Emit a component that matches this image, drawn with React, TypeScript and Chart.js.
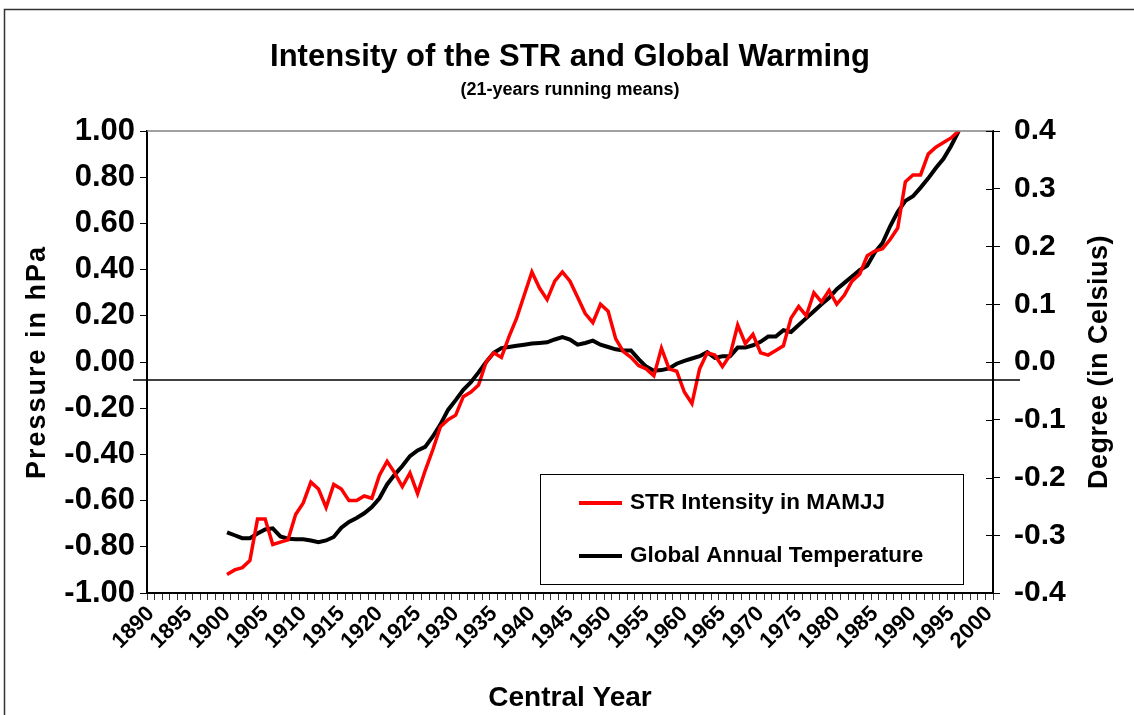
import React, { useEffect, useRef } from 'react';
import { Chart, registerables } from 'chart.js';

Chart.register(...registerables);

// ---------- DATA ----------
const FIRST_YEAR = 1890;
const LAST_YEAR = 2000;
const SERIES_START_YEAR = 1900;

const tickLabels = ['1890', '1895', '1900', '1905', '1910', '1915', '1920', '1925', '1930', '1935', '1940', '1945', '1950', '1955', '1960', '1965', '1970', '1975', '1980', '1985', '1990', '1995', '2000'];

// STR intensity (hPa), 21-year running means, central years 1900..1996
const strValues = [
  -0.92, -0.90, -0.89, -0.86, -0.68, -0.68, -0.79, -0.78, -0.77, -0.66,
  -0.61, -0.52, -0.55, -0.63, -0.53, -0.55, -0.60, -0.60, -0.58, -0.59,
  -0.49, -0.43, -0.48, -0.54, -0.48, -0.57, -0.47, -0.38, -0.28, -0.25,
  -0.23, -0.15, -0.13, -0.10, 0.00, 0.04, 0.02, 0.11, 0.19, 0.29,
  0.39, 0.32, 0.27, 0.35, 0.39, 0.35, 0.28, 0.21, 0.17, 0.25,
  0.22, 0.10, 0.045, 0.02, -0.015, -0.03, -0.06, 0.06, -0.03, -0.04,
  -0.13, -0.18, -0.03, 0.04, 0.03, -0.02, 0.03, 0.16, 0.08, 0.12,
  0.04, 0.03, 0.05, 0.07, 0.19, 0.24, 0.20, 0.30, 0.26, 0.31,
  0.25, 0.29, 0.35, 0.38, 0.46, 0.48, 0.49, 0.53, 0.58, 0.78,
  0.81, 0.81, 0.90, 0.93, 0.95, 0.97, 1.00,
];

// Global annual temperature anomaly (deg C), central years 1900..1996
const tempValues = [
  -0.295, -0.300, -0.305, -0.305, -0.297, -0.290, -0.288, -0.302, -0.306, -0.307,
  -0.307, -0.309, -0.312, -0.309, -0.303, -0.287, -0.277, -0.270, -0.262, -0.251,
  -0.236, -0.212, -0.195, -0.180, -0.163, -0.153, -0.147, -0.129, -0.108, -0.083,
  -0.066, -0.048, -0.035, -0.018, 0.000, 0.016, 0.024, 0.026, 0.028, 0.030,
  0.032, 0.033, 0.034, 0.039, 0.043, 0.039, 0.030, 0.033, 0.037, 0.030,
  0.026, 0.022, 0.020, 0.020, 0.005, -0.008, -0.015, -0.014, -0.011, -0.003,
  0.002, 0.006, 0.010, 0.017, 0.007, 0.010, 0.010, 0.025, 0.025, 0.029,
  0.035, 0.044, 0.044, 0.055, 0.052, 0.064, 0.076, 0.088, 0.100, 0.111,
  0.126, 0.137, 0.148, 0.159, 0.167, 0.190, 0.206, 0.235, 0.260, 0.279,
  0.287, 0.302, 0.318, 0.336, 0.352, 0.374, 0.400,
];

const REF_LINE_VALUE = -0.078; // horizontal reference line, left-axis units

const TITLE = 'Intensity of the STR and Global Warming';
const SUBTITLE = '(21-years running means)';
const X_TITLE = 'Central Year';
const Y_TITLE = 'Pressure in hPa';
const Y1_TITLE = 'Degree (in Celsius)';
const STR_LABEL = 'STR Intensity in MAMJJ';
const TEMP_LABEL = 'Global Annual Temperature';

// ---------- BUILD ----------
const categories: string[] = [];
for (let y = FIRST_YEAR; y <= LAST_YEAR; y++) categories.push(String(y));

function align(values: number[]): (number | null)[] {
  return categories.map((c) => {
    const i = Number(c) - SERIES_START_YEAR;
    return i >= 0 && i < values.length ? values[i] : null;
  });
}

const FONT = '"Liberation Sans", Arial, Helvetica, sans-serif';
const W = 1134;
const H = 715;

const decorPlugin = {
  id: 'decor',
  afterDraw(chart: any) {
    const { ctx, chartArea: a, scales } = chart;
    ctx.save();

    // outer frame
    ctx.strokeStyle = '#333';
    ctx.lineWidth = 1.5;
    ctx.beginPath();
    ctx.moveTo(4.5, H + 5);
    ctx.lineTo(4.5, 9.5);
    ctx.lineTo(W + 5, 9.5);
    ctx.stroke();

    // plot area top border
    ctx.strokeStyle = '#808080';
    ctx.lineWidth = 1.5;
    ctx.beginPath();
    ctx.moveTo(a.left, a.top);
    ctx.lineTo(a.right, a.top);
    ctx.stroke();

    // inner half of right-axis ticks
    ctx.strokeStyle = '#000';
    ctx.lineWidth = 1;
    scales.y1.ticks.forEach((t: any) => {
      const py = Math.round(scales.y1.getPixelForValue(t.value)) + 0.5;
      ctx.beginPath();
      ctx.moveTo(a.right - 7, py);
      ctx.lineTo(a.right, py);
      ctx.stroke();
    });

    // horizontal reference line
    const ry = scales.y.getPixelForValue(REF_LINE_VALUE);
    ctx.strokeStyle = '#000';
    ctx.lineWidth = 1.5;
    ctx.beginPath();
    ctx.moveTo(a.left - 14, ry);
    ctx.lineTo(a.right + 27, ry);
    ctx.stroke();

    // titles
    ctx.fillStyle = '#000';
    ctx.textAlign = 'center';
    ctx.textBaseline = 'middle';
    const cx = (a.left + a.right) / 2;
    ctx.font = `bold 31px ${FONT}`;
    ctx.fillText(TITLE, cx, 57);
    ctx.font = `bold 18px ${FONT}`;
    ctx.fillText(SUBTITLE, cx, 90);
    ctx.font = `bold 28px ${FONT}`;
    ctx.fillText(X_TITLE, cx, 698);

    const midY = (a.top + a.bottom) / 2;
    ctx.save();
    ctx.translate(38, midY);
    ctx.rotate(-Math.PI / 2);
    ctx.font = `bold 27px ${FONT}`;
    (ctx as any).letterSpacing = '2px';
    ctx.fillText(Y_TITLE, 0, 0);
    ctx.restore();

    ctx.save();
    ctx.translate(1100, midY);
    ctx.rotate(-Math.PI / 2);
    ctx.font = `bold 27px ${FONT}`;
    (ctx as any).letterSpacing = '0.5px';
    ctx.fillText(Y1_TITLE, 0, 0);
    ctx.restore();

    // legend
    const lx = 540.5, ly = 474.5, lw = 423, lh = 110;
    ctx.fillStyle = '#fff';
    ctx.fillRect(lx, ly, lw, lh);
    ctx.strokeStyle = '#000';
    ctx.lineWidth = 1;
    ctx.strokeRect(lx, ly, lw, lh);
    const items = [
      { label: STR_LABEL, color: chart.data.datasets[0].borderColor, y: 503 },
      { label: TEMP_LABEL, color: chart.data.datasets[1].borderColor, y: 556 },
    ];
    items.forEach((it) => {
      ctx.strokeStyle = it.color;
      ctx.lineWidth = 4;
      ctx.beginPath();
      ctx.moveTo(579, it.y);
      ctx.lineTo(622, it.y);
      ctx.stroke();
      ctx.fillStyle = '#000';
      ctx.textAlign = 'left';
      ctx.font = `bold 22.5px ${FONT}`;
      ctx.fillText(it.label, 630, it.y);
    });

    ctx.restore();
  },
};

export default function App() {
  const ref = useRef<HTMLCanvasElement | null>(null);

  useEffect(() => {
    if (!ref.current) return;
    const chart = new Chart(ref.current, {
      type: 'line',
      data: {
        labels: categories,
        datasets: [
          {
            label: STR_LABEL,
            data: align(strValues),
            borderColor: '#ff0000',
            borderWidth: 3.5,
            pointRadius: 0,
            tension: 0,
            yAxisID: 'y',
            spanGaps: false,
          },
          {
            label: TEMP_LABEL,
            data: align(tempValues),
            borderColor: '#000000',
            borderWidth: 4,
            pointRadius: 0,
            tension: 0,
            yAxisID: 'y1',
            spanGaps: false,
          },
        ],
      },
      options: {
        responsive: false,
        animation: false,
        devicePixelRatio: 1,
        layout: { padding: { top: 131, left: 0, right: 0, bottom: 0 } },
        plugins: {
          legend: { display: false },
          title: { display: false },
          tooltip: { enabled: false },
        },
        scales: {
          x: {
            type: 'category',
            offset: true,
            grid: { offset: true, drawOnChartArea: false, drawTicks: true, tickLength: 7, color: '#333', lineWidth: 1 },
            border: { color: '#000', width: 2 },
            ticks: {
              autoSkip: false,
              maxRotation: 45,
              minRotation: 45,
              padding: 1,
              color: '#000',
              font: { family: FONT, size: 22, weight: 'bold' },
              callback: (_v: any, i: number) => (tickLabels.includes(categories[i]) ? categories[i] : ''),
            },
            afterFit: (s: any) => { s.height = H - 593; },
          },
          y: {
            position: 'left',
            min: -1,
            max: 1,
            grid: { drawOnChartArea: false, drawTicks: true, tickLength: 7, color: '#000', lineWidth: 1 },
            border: { color: '#000', width: 2 },
            ticks: {
              stepSize: 0.2,
              padding: 5,
              color: '#000',
              font: { family: FONT, size: 31, weight: 'bold' },
              callback: (v: any) => (Math.abs(Number(v)) < 1e-9 ? 0 : Number(v)).toFixed(2),
            },
            afterFit: (s: any) => { s.width = 147; },
          },
          y1: {
            position: 'right',
            min: -0.4,
            max: 0.4,
            grid: { drawOnChartArea: false, drawTicks: true, tickLength: 7, color: '#000', lineWidth: 1 },
            border: { color: '#000', width: 2 },
            ticks: {
              stepSize: 0.1,
              padding: 14,
              color: '#000',
              font: { family: FONT, size: 30, weight: 'bold' },
              callback: (v: any) => (Math.abs(Number(v)) < 1e-9 ? 0 : Number(v)).toFixed(1),
            },
            afterFit: (s: any) => { s.width = W - 993; },
          },
        },
      } as any,
      plugins: [decorPlugin],
    });
    return () => chart.destroy();
  }, []);

  return (
    <div style={{ position: 'fixed', left: 0, top: 0, width: W, height: H, background: '#fff' }}>
      <canvas ref={ref} width={W} height={H} style={{ width: W, height: H, display: 'block' }} />
    </div>
  );
}
